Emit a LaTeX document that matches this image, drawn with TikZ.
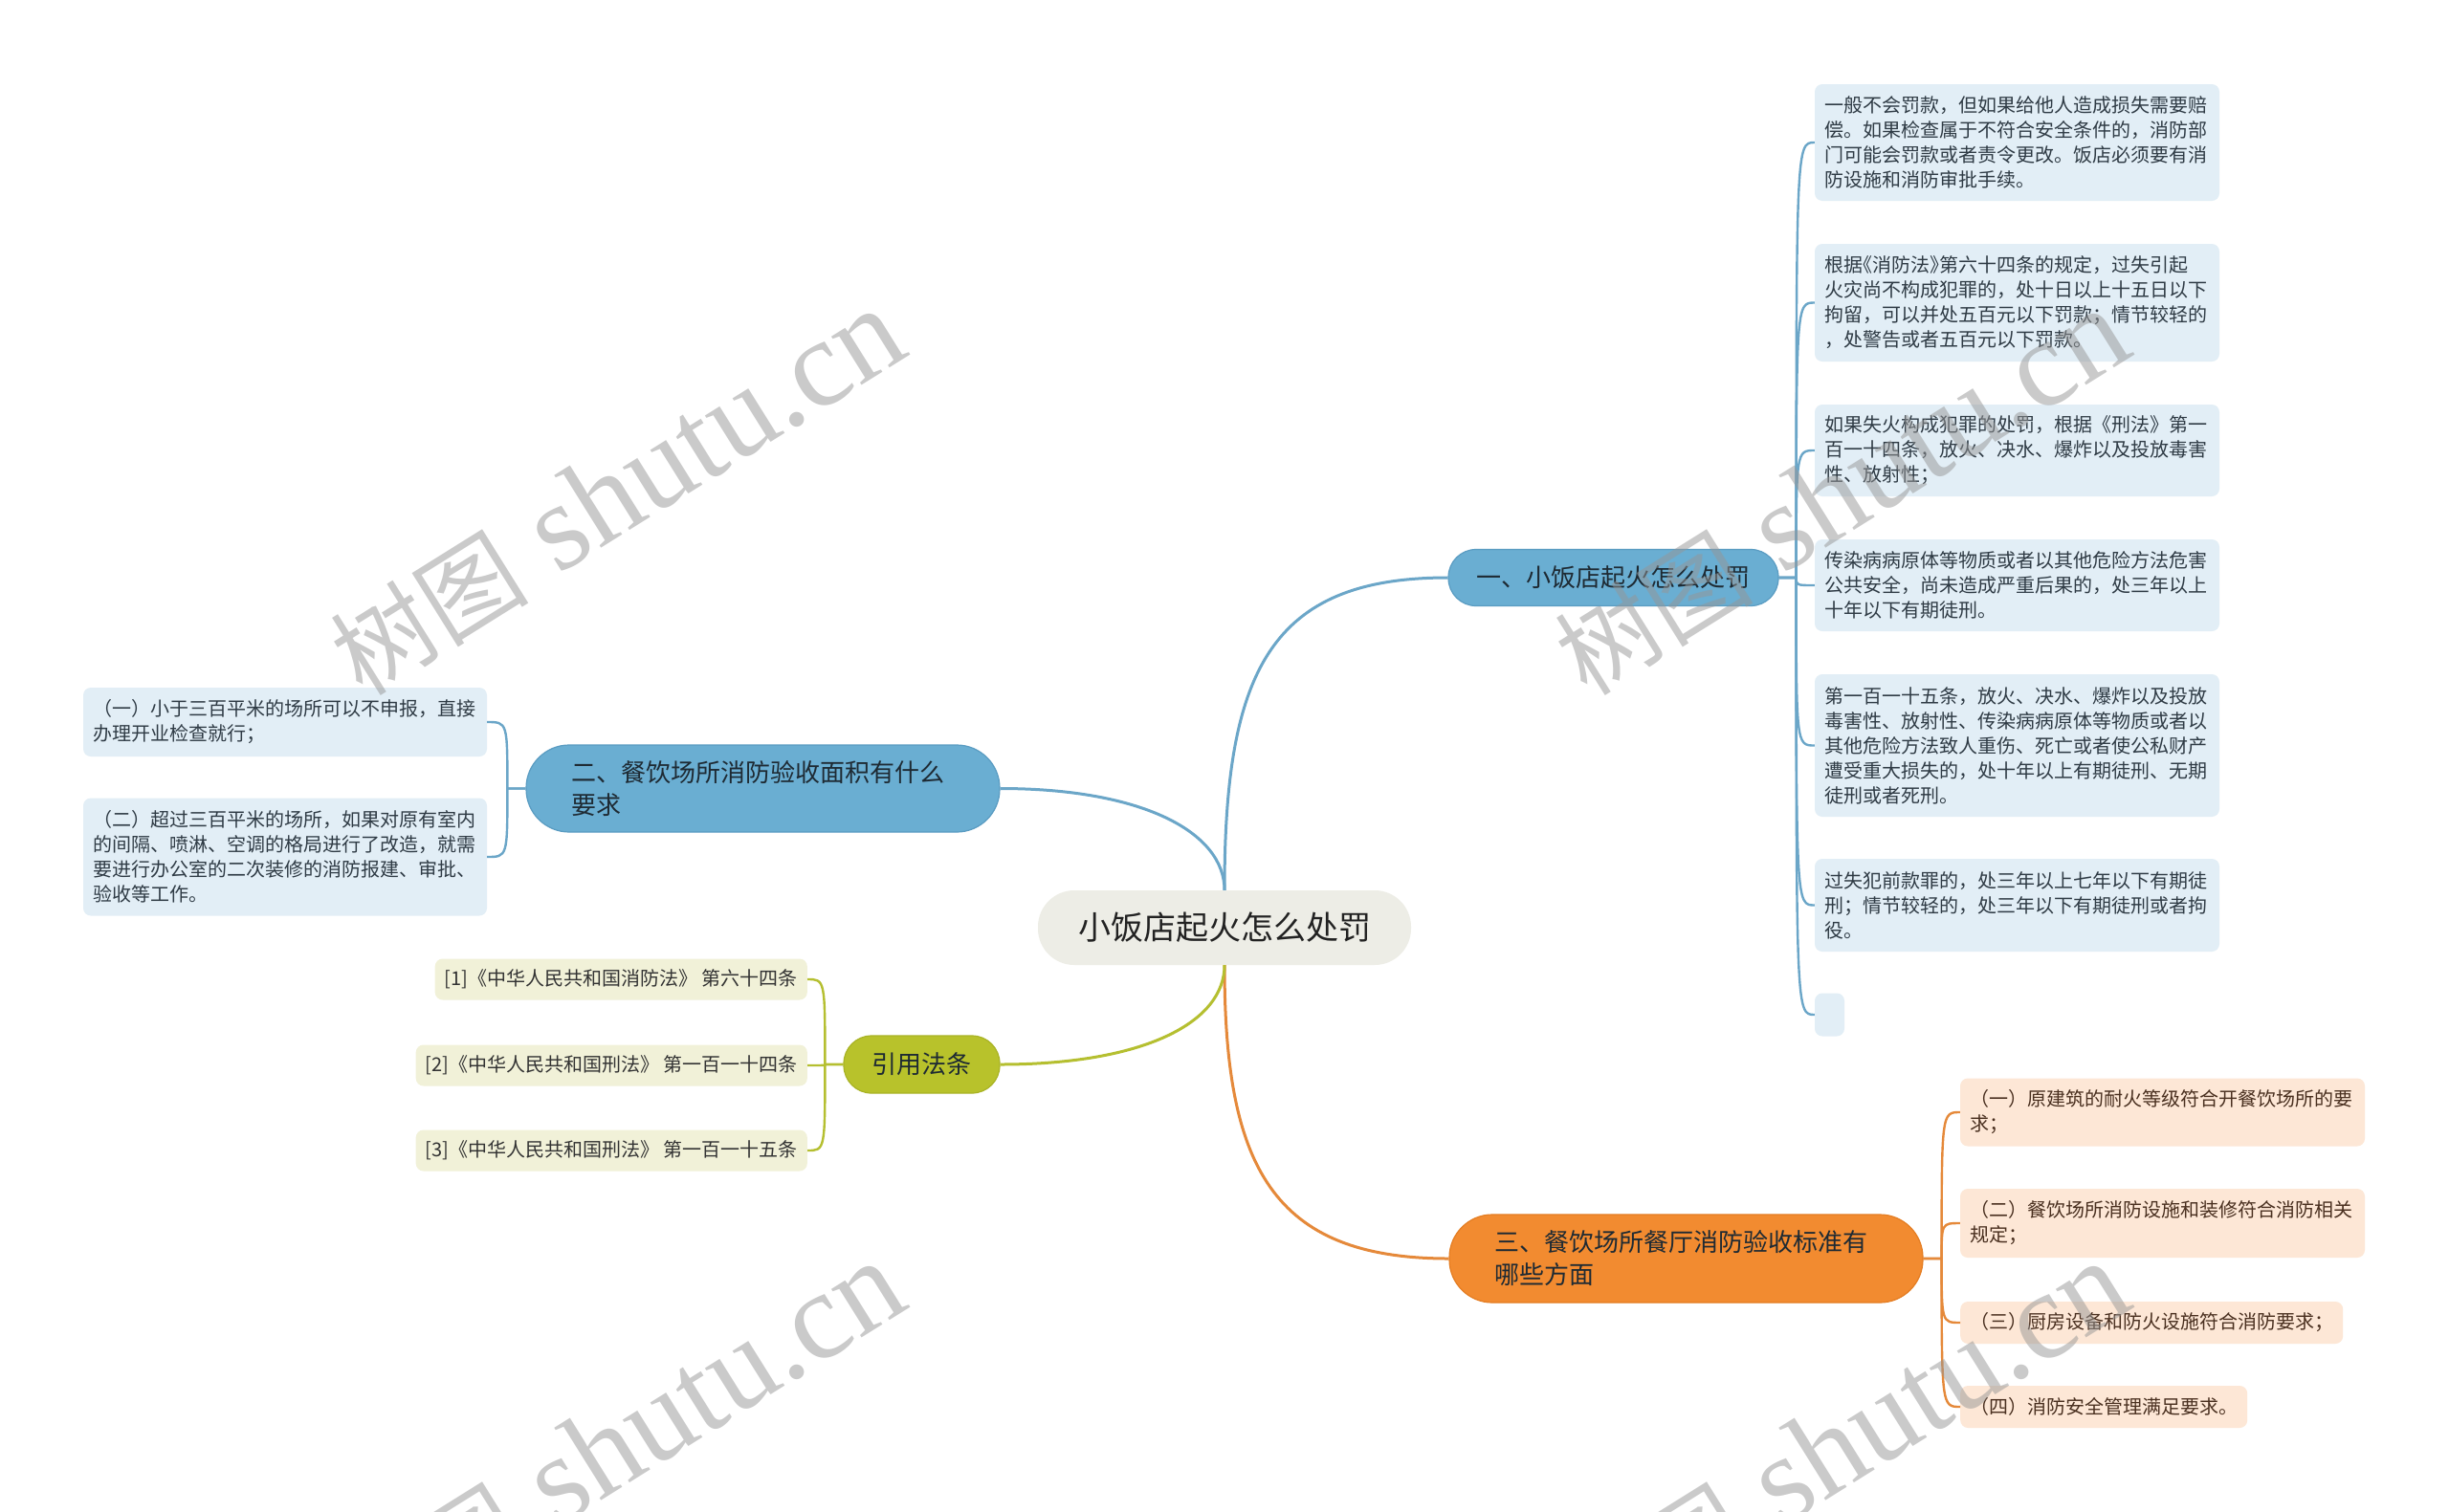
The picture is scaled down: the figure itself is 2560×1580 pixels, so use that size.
\documentclass[tikz,border=0pt]{standalone}
\usepackage{fontspec}
\setmainfont{Noto Sans CJK SC}
\newfontfamily\cjkfam{Noto Sans CJK SC}
\newfontfamily\wmserif{Liberation Serif}
\usetikzlibrary{calc}
\definecolor{rootfill}{HTML}{EDEDE6}
\definecolor{rootText}{HTML}{222222}
\definecolor{brText}{HTML}{1E2A33}
\definecolor{bBfill}{HTML}{6AAED2}
\definecolor{bBdraw}{HTML}{5A9CC2}
\definecolor{lBfill}{HTML}{E2EEF6}
\definecolor{lBline}{HTML}{6BA6C8}
\definecolor{lBtext}{HTML}{2F3B45}
\definecolor{bOfill}{HTML}{F28B30}
\definecolor{bOdraw}{HTML}{E47D22}
\definecolor{lOfill}{HTML}{FDE7D6}
\definecolor{lOline}{HTML}{E5893A}
\definecolor{lOtext}{HTML}{4A3020}
\definecolor{bGfill}{HTML}{B8C22B}
\definecolor{bGdraw}{HTML}{A9B325}
\definecolor{lGfill}{HTML}{F1F1D8}
\definecolor{lGline}{HTML}{B5BF30}
\definecolor{lGtext}{HTML}{333333}
\definecolor{wmgray}{HTML}{969696}
\tikzset{
  rootbox/.style={fill=rootfill, rounded corners=38pt, minimum width=390pt, minimum height=78pt,
    inner sep=0pt, text=rootText, font=\fontsize{34}{40}\selectfont},
  branch/.style={line width=1.2pt, inner sep=0pt, text=brText, font=\fontsize{26}{34}\selectfont},
  brBlue/.style={branch, fill=bBfill, draw=bBdraw},
  brOrange/.style={branch, fill=bOfill, draw=bOdraw},
  brGreen/.style={branch, fill=bGfill, draw=bGdraw},
  leaf/.style={rounded corners=8pt, inner xsep=10pt, inner ysep=0pt, align=left,
    font=\fontsize{20}{26}\selectfont},
  leafBlue/.style={leaf, fill=lBfill, text=lBtext},
  leafOrange/.style={leaf, fill=lOfill, text=lOtext},
  leafGreen/.style={leaf, fill=lGfill, text=lGtext, minimum height=43pt},
  lineMain/.style={line width=3pt},
  lineLeaf/.style={line width=2.4pt},
  wm/.style={text=wmgray, text opacity=0.5, inner sep=0pt, rotate=32,
    font=\wmserif\fontsize{130}{130}\selectfont}
}
\newcommand{\wmtext}{{\cjkfam\fontsize{104}{104}\selectfont 树图}\ shutu.cn}
\begin{document}
\begin{tikzpicture}[x=1pt,y=-1pt]
\fill[white] (0,0) rectangle (2560,1580);
\useasboundingbox (0,0) rectangle (2560,1580);

% root and branches
\node[rootbox] (root) at (1280,970) {小饭店起火怎么处罚};
\node[brBlue, minimum width=345pt, minimum height=59pt, rounded corners=29pt] (b1) at (1686.5,604) {一、小饭店起火怎么处罚};
\node[brBlue, minimum width=495pt, minimum height=91pt, rounded corners=45pt, text width=400pt, align=left] (b2) at (797.5,824.5) {二、餐饮场所消防验收面积有什么\\要求};
\node[brOrange, minimum width=495pt, minimum height=92pt, rounded corners=45pt, text width=400pt, align=left] (b3) at (1762.5,1316) {三、餐饮场所餐厅消防验收标准有\\哪些方面};
\node[brGreen, minimum width=163pt, minimum height=60pt, rounded corners=29pt] (gr) at (963.5,1113) {引用法条};

% branch 1 leaves
\node[leafBlue, text width=403pt, minimum height=122pt] (l1a) at (2108.5,149) {一般不会罚款，但如果给他人造成损失需要赔\\偿。如果检查属于不符合安全条件的，消防部\\门可能会罚款或者责令更改。饭店必须要有消\\防设施和消防审批手续。};
\node[leafBlue, text width=403pt, minimum height=123pt] (l1b) at (2108.5,316.5) {根据\hspace{-.5em}《消防法》\hspace{-.5em}第六十四条的规定，过失引起\\火灾尚不构成犯罪的，处十日以上十五日以下\\拘留，可以并处五百元以下罚款；情节较轻的\\，处警告或者五百元以下罚款。};
\node[leafBlue, text width=403pt, minimum height=96pt] (l1c) at (2108.5,471) {如果失火构成犯罪的处罚，根据《刑法》第一\\百一十四条，放火、决水、爆炸以及投放毒害\\性、放射性；};
\node[leafBlue, text width=403pt, minimum height=96pt] (l1d) at (2108.5,612) {传染病病原体等物质或者以其他危险方法危害\\公共安全，尚未造成严重后果的，处三年以上\\十年以下有期徒刑。};
\node[leafBlue, text width=403pt, minimum height=149pt] (l1e) at (2108.5,779.5) {第一百一十五条，放火、决水、爆炸以及投放\\毒害性、放射性、传染病病原体等物质或者以\\其他危险方法致人重伤、死亡或者使公私财产\\遭受重大损失的，处十年以上有期徒刑、无期\\徒刑或者死刑。};
\node[leafBlue, text width=403pt, minimum height=97pt] (l1f) at (2108.5,946.5) {过失犯前款罪的，处三年以上七年以下有期徒\\刑；情节较轻的，处三年以下有期徒刑或者拘\\役。};
\node[leafBlue, inner xsep=0pt, minimum width=31pt, minimum height=45pt] (l1g) at (1912.5,1061) {};

% branch 2 leaves
\node[leafBlue, text width=402pt, minimum height=72pt] (l2a) at (298,755) {（一）小于三百平米的场所可以不申报，直接\\办理开业检查就行；};
\node[leafBlue, text width=402pt, minimum height=123pt] (l2b) at (298,896) {（二）超过三百平米的场所，如果对原有室内\\的间隔、喷淋、空调的格局进行了改造，就需\\要进行办公室的二次装修的消防报建、审批、\\验收等工作。};

% branch 3 leaves
\node[leafOrange, text width=403pt, minimum height=71pt] (l3a) at (2260.5,1163) {（一）原建筑的耐火等级符合开餐饮场所的要\\求；};
\node[leafOrange, text width=403pt, minimum height=72pt] (l3b) at (2260.5,1279) {（二）餐饮场所消防设施和装修符合消防相关\\规定；};
\node[leafOrange, anchor=west, minimum height=44pt] (l3c) at (2049,1383) {（三）厨房设备和防火设施符合消防要求；};
\node[leafOrange, anchor=west, minimum height=44pt] (l3d) at (2049,1471) {（四）消防安全管理满足要求。};

% green leaves
\node[leafGreen, anchor=east] (g1) at (844,1024) {[1]《中华人民共和国消防法》 第六十四条};
\node[leafGreen, anchor=east] (g2) at (844,1114) {[2]《中华人民共和国刑法》 第一百一十四条};
\node[leafGreen, anchor=east] (g3) at (844,1203) {[3]《中华人民共和国刑法》 第一百一十五条};

% main connectors
\draw[lineMain, lBline] (root.north) .. controls +(0,-230) and +(-185,0) .. (b1.west);
\draw[lineMain, lBline] (root.north) .. controls +(0,-60) and +(150,0) .. (b2.east);
\draw[lineMain, lOline] (root.south) .. controls +(0,210) and +(-185,0) .. (b3.west);
\draw[lineMain, lGline] (root.south) .. controls +(0,60) and +(150,0) .. (gr.east);

% leaf connectors
\coordinate (b1s) at ($(b1.east)+(18,0)$);
\foreach \l in {l1a,l1b,l1c,l1d,l1e,l1f,l1g}
  \draw[lineLeaf, lBline] (b1.east) -- (b1s) .. controls (b1s |- \l.west) .. (\l.west);
\coordinate (b2s) at ($(b2.west)+(-19,0)$);
\foreach \l in {l2a,l2b}
  \draw[lineLeaf, lBline] (b2.west) -- (b2s) .. controls (b2s |- \l.east) .. (\l.east);
\coordinate (b3s) at ($(b3.east)+(19,0)$);
\foreach \l in {l3a,l3b,l3c,l3d}
  \draw[lineLeaf, lOline] (b3.east) -- (b3s) .. controls (b3s |- \l.west) .. (\l.west);
\coordinate (grs) at ($(gr.west)+(-19,0)$);
\foreach \l in {g1,g2,g3}
  \draw[lineLeaf, lGline] (gr.west) -- (grs) .. controls (grs |- \l.east) .. (\l.east);

% watermarks
\node[wm] (wm1) at (645,515) {\wmtext};
\node[wm] (wm2) at (1925,515) {\wmtext};
\node[wm] (wm3) at (645,1511) {\wmtext};
\node[wm] (wm4) at (1925,1511) {\wmtext};
\end{tikzpicture}
\end{document}
